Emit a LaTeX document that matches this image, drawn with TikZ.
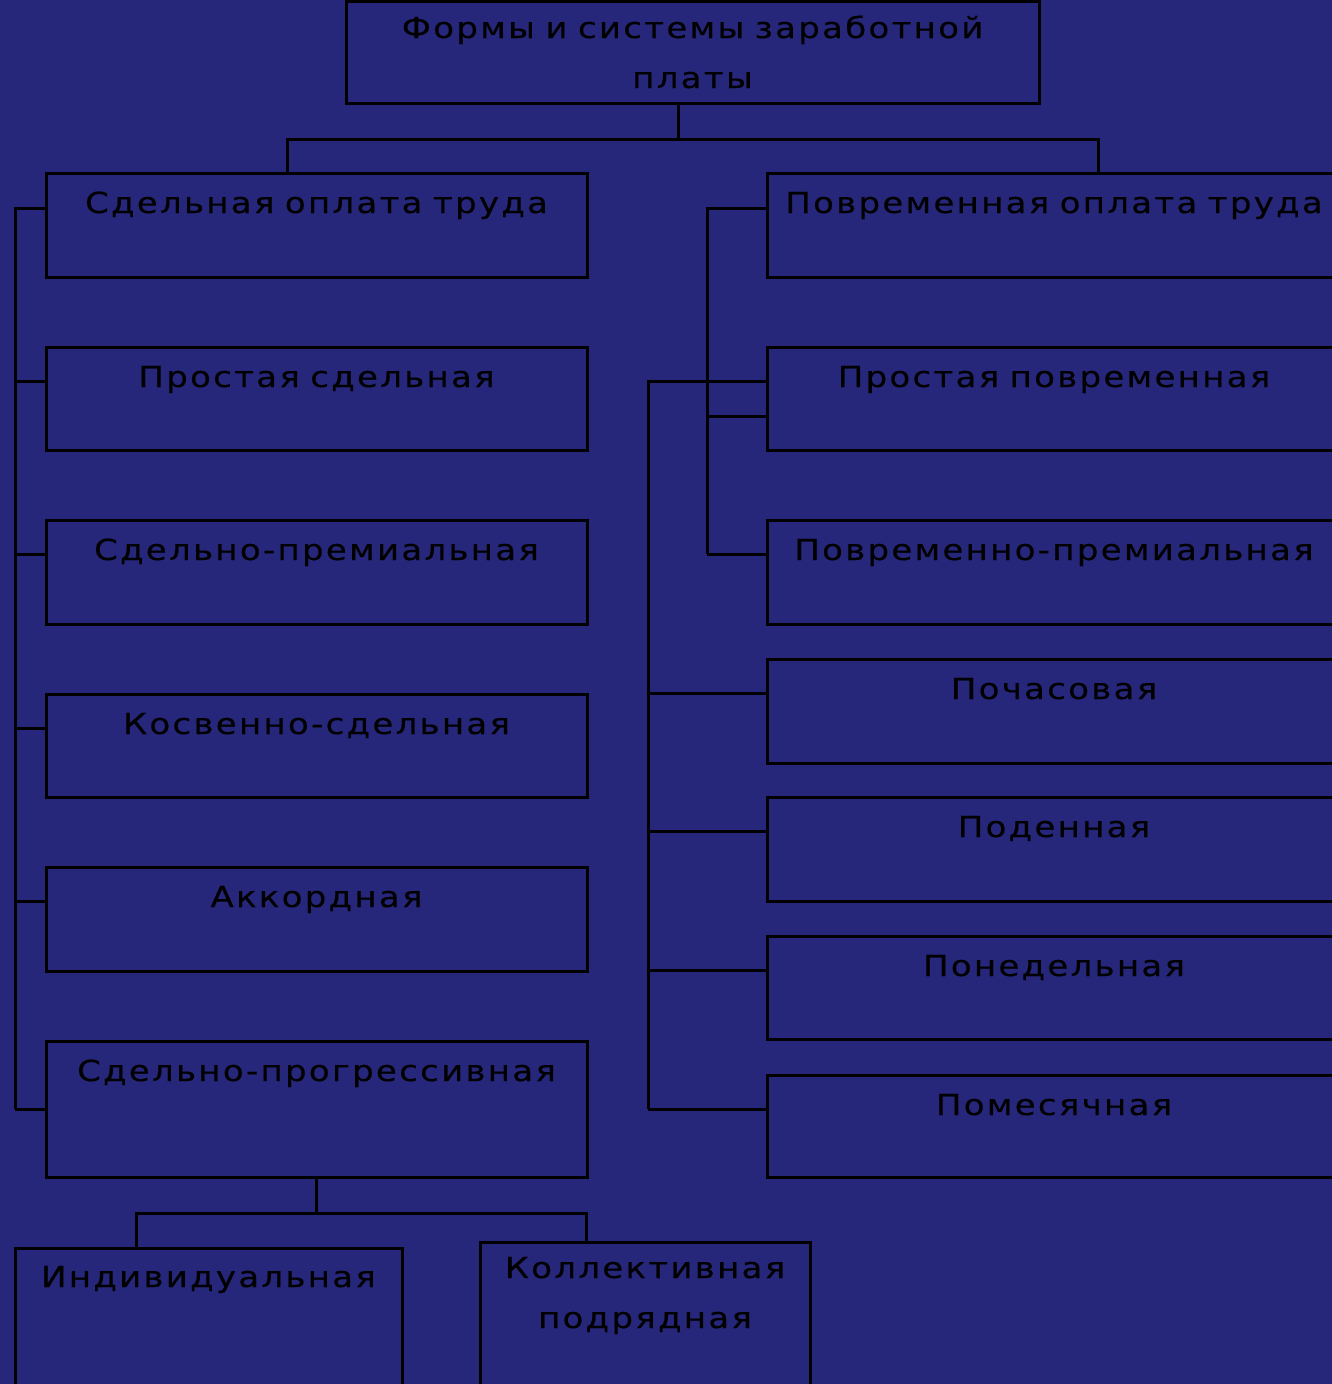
\documentclass[tikz,border=0pt]{standalone}
\usepackage{fontspec}
\newfontfamily\lblfont[FakeStretch=1.17,LetterSpace=8,WordSpace=0.8,FakeBold=0.4]{DejaVu Sans}
\definecolor{bg}{RGB}{38,39,122}
\begin{document}
\begin{tikzpicture}[x=1pt,y=-1pt,
  conn/.style={draw=black,line width=3pt},
  box/.style={draw=black,line width=3pt,anchor=north west,outer sep=0pt,inner sep=0pt},
  lbl/.style={anchor=base,inner sep=0pt,align=center,text=black,font=\lblfont\fontsize{29}{50}\selectfont}]
\useasboundingbox (0,0) rectangle (1332,1384);
\fill[bg] (0,0) rectangle (1332,1384);
\clip (0,0) rectangle (1332,1384);
% top
\node[box,minimum width=693pt,minimum height=102pt] (top) at (346,1) {};
\node[lbl] (topt) at ([yshift=-87pt]top.north) {Формы и системы заработной\\платы};
% left column
\node[box,minimum width=541pt,minimum height=104pt] (s1) at (46,173) {};
\node[box,minimum width=541pt,minimum height=103pt] (s2) at (46,347) {};
\node[box,minimum width=541pt,minimum height=104pt] (s3) at (46,520) {};
\node[box,minimum width=541pt,minimum height=103pt] (s4) at (46,694) {};
\node[box,minimum width=541pt,minimum height=104pt] (s5) at (46,867) {};
\node[box,minimum width=541pt,minimum height=136pt] (s6) at (46,1041) {};
\node[lbl] (s1t) at ([yshift=-40pt]s1.north) {Сдельная оплата труда};
\node[lbl] (s2t) at ([yshift=-40pt]s2.north) {Простая сдельная};
\node[lbl] (s3t) at ([yshift=-40pt]s3.north) {Сдельно-премиальная};
\node[lbl] (s4t) at ([yshift=-40pt]s4.north) {Косвенно-сдельная};
\node[lbl] (s5t) at ([yshift=-40pt]s5.north) {Аккордная};
\node[lbl] (s6t) at ([yshift=-40pt]s6.north) {Сдельно-прогрессивная};
% right column
\node[box,minimum width=574pt,minimum height=104pt] (r1) at (767,173) {};
\node[box,minimum width=574pt,minimum height=103pt] (r2) at (767,347) {};
\node[box,minimum width=574pt,minimum height=104pt] (r3) at (767,520) {};
\node[box,minimum width=574pt,minimum height=104pt] (r4) at (767,659) {};
\node[box,minimum width=574pt,minimum height=104pt] (r5) at (767,797) {};
\node[box,minimum width=574pt,minimum height=103pt] (r6) at (767,936) {};
\node[box,minimum width=574pt,minimum height=102pt] (r7) at (767,1075) {};
\node[lbl] (r1t) at ([yshift=-40pt]r1.north) {Повременная оплата труда};
\node[lbl] (r2t) at ([yshift=-40pt]r2.north) {Простая повременная};
\node[lbl] (r3t) at ([yshift=-40pt]r3.north) {Повременно-премиальная};
\node[lbl] (r4t) at ([yshift=-40pt]r4.north) {Почасовая};
\node[lbl] (r5t) at ([yshift=-40pt]r5.north) {Поденная};
\node[lbl] (r6t) at ([yshift=-40pt]r6.north) {Понедельная};
\node[lbl] (r7t) at ([yshift=-40pt]r7.north) {Помесячная};
% bottom
\node[box,minimum width=387pt,minimum height=200pt] (ind) at (15,1248) {};
\node[box,minimum width=330pt,minimum height=200pt] (kol) at (480,1242) {};
\node[lbl] (indt) at ([yshift=-39pt]ind.north) {Индивидуальная};
\node[lbl] (kolt) at ([yshift=-86pt]kol.north) {Коллективная\\подрядная};
% connectors: top
\draw[conn] ([xshift=-14.5pt]top.south) -- ++(0,36) coordinate (tj);
\draw[conn] ([xshift=-29.5pt]s1.north) |- (tj) -| ([xshift=44pt]r1.north);
% left bus
\coordinate (lbus) at (15,1109);
\foreach \n/\d in {s1/35,s2/34,s3/34,s4/34,s5/34}
  \draw[conn] ([yshift=-\d pt]\n.north west) -| (lbus);
\draw[conn] (s6.west) -- (lbus);
% right inner bus
\coordinate (ribus) at (707,554);
\foreach \n/\d in {r1/35,r2/34,r2/69,r3/34}
  \draw[conn] ([yshift=-\d pt]\n.north west) -| (ribus);
% right outer bus
\coordinate (robus) at (648,1109);
\foreach \n/\d in {r2/34,r4/34,r5/34,r6/34,r7/34}
  \draw[conn] ([yshift=-\d pt]\n.north west) -| (robus);
% bottom split
\draw[conn] (s6.south) -- ++(0,36) coordinate (bj);
\draw[conn] ([xshift=-72.5pt]ind.north) |- (bj) -| ([xshift=-59pt]kol.north);
\end{tikzpicture}
\end{document}
